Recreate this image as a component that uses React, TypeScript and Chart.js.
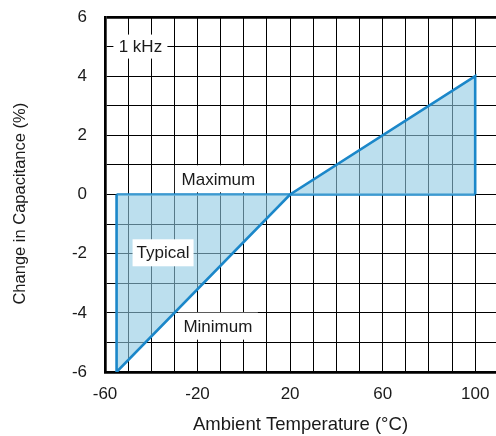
import React, { useEffect, useRef } from "react";
import { Chart, registerables } from "chart.js";

Chart.register(...registerables);

// Shaded envelope outline (Typical region between Maximum and Minimum limits)
const shadeX = [-55, -55, 20, 100, 100];
const shadeY = [0, -6, 0, 4, 0];
// Zero (Maximum below 20 °C / Minimum above 20 °C) limit line
const zeroX = [-55, 100];
const zeroY = [0, 0];

const xTickLabels = [-60, -20, 20, 60, 100];
const yTickLabels = [-6, -4, -2, 0, 2, 4, 6];

const noteTexts = ["1 kHz", "Maximum", "Typical", "Minimum"];
const noteX = [-44.7, -11.0, -34.9, -11.2];
const noteY = [5.0, 0.53, -1.97, -4.45];
const noteBoxW = [54, 87, 61, 80];
const noteBoxH = [24, 27, 27, 27];

const FONT = '"Liberation Sans", Arial, Helvetica, sans-serif';
const LINE = "#1b87c9";
const FILL = "rgba(143, 202, 227, 0.6)";
const TEXT = "#1a1a1a";

const notesPlugin = {
  id: "notes",
  afterDatasetsDraw(chart: any) {
    const { ctx, scales } = chart;
    const x = scales.x;
    const y = scales.y;
    ctx.save();
    ctx.font = `17px ${FONT}`;
    ctx.textAlign = "center";
    ctx.textBaseline = "middle";
    noteTexts.forEach((t, i) => {
      const px = x.getPixelForValue(noteX[i]);
      const py = y.getPixelForValue(noteY[i]);
      const w = noteBoxW[i];
      const h = noteBoxH[i];
      ctx.fillStyle = "#ffffff";
      ctx.fillRect(px - w / 2, py - h / 2, w, h);
      ctx.fillStyle = TEXT;
      ctx.fillText(t, px, py + 1);
    });
    ctx.restore();
  },
};

export default function App() {
  const ref = useRef<HTMLCanvasElement | null>(null);

  useEffect(() => {
    if (!ref.current) return;
    const chart = new Chart(ref.current, {
      type: "line",
      data: {
        datasets: [
          {
            data: shadeX.map((v, i) => ({ x: v, y: shadeY[i] })),
            borderColor: LINE,
            borderWidth: 2.6,
            backgroundColor: FILL,
            fill: "origin",
            pointRadius: 0,
            tension: 0,
            borderJoinStyle: "miter",
          },
          {
            data: zeroX.map((v, i) => ({ x: v, y: zeroY[i] })),
            borderColor: LINE,
            borderWidth: 2.6,
            fill: false,
            pointRadius: 0,
            tension: 0,
          },
        ],
      },
      options: {
        animation: false,
        responsive: false,
        devicePixelRatio: 1,
        layout: { padding: { top: 17, left: 0, right: 0, bottom: 0 } },
        plugins: {
          legend: { display: false },
          tooltip: { enabled: false },
        },
        scales: {
          x: {
            type: "linear",
            min: -60,
            max: 109,
            afterFit: (s: any) => {
              s.height = 64;
            },
            ticks: {
              stepSize: 10,
              autoSkip: false,
              includeBounds: false,
              maxRotation: 0,
              padding: 0,
              color: TEXT,
              font: { family: FONT, size: 17 },
              callback: (v: any) => {
                const r = Math.round(Number(v));
                return xTickLabels.includes(r) ? String(r) : "";
              },
            },
            grid: {
              color: "#000",
              lineWidth: 1,
              drawTicks: true,
              tickLength: 12,
              tickColor: "rgba(0,0,0,0)",
            },
            border: { color: "#000", width: 2.7 },
            title: {
              display: true,
              text: "Ambient Temperature (°C)",
              color: TEXT,
              font: { family: FONT, size: 18.5 },
              padding: { top: 0, bottom: 0 },
            },
          },
          y: {
            type: "linear",
            min: -6,
            max: 6,
            afterFit: (s: any) => {
              s.width = 105;
            },
            ticks: {
              stepSize: 1,
              autoSkip: false,
              padding: 0,
              color: TEXT,
              font: { family: FONT, size: 17 },
              callback: (v: any) => {
                const r = Math.round(Number(v));
                return yTickLabels.includes(r) ? String(r) : "";
              },
            },
            grid: {
              color: "#000",
              lineWidth: (c: any) => (c.tick && Math.round(c.tick.value) === 6 ? 2.7 : 1),
              drawTicks: true,
              tickLength: 18,
              tickColor: "rgba(0,0,0,0)",
            },
            border: { color: "#000", width: 2.7 },
            title: {
              display: true,
              text: "Change in Capacitance (%)\u00A0\u00A0\u00A0\u00A0",
              color: TEXT,
              font: { family: FONT, size: 16.5 },
              padding: { top: 11, bottom: 0 },
            },
          },
        },
      },
      plugins: [notesPlugin],
    } as any);
    return () => chart.destroy();
  }, []);

  return (
    <div style={{ position: "fixed", left: 0, top: 0, width: 496, height: 436, background: "#fff" }}>
      <canvas ref={ref} width={496} height={436} style={{ display: "block" }} />
    </div>
  );
}
